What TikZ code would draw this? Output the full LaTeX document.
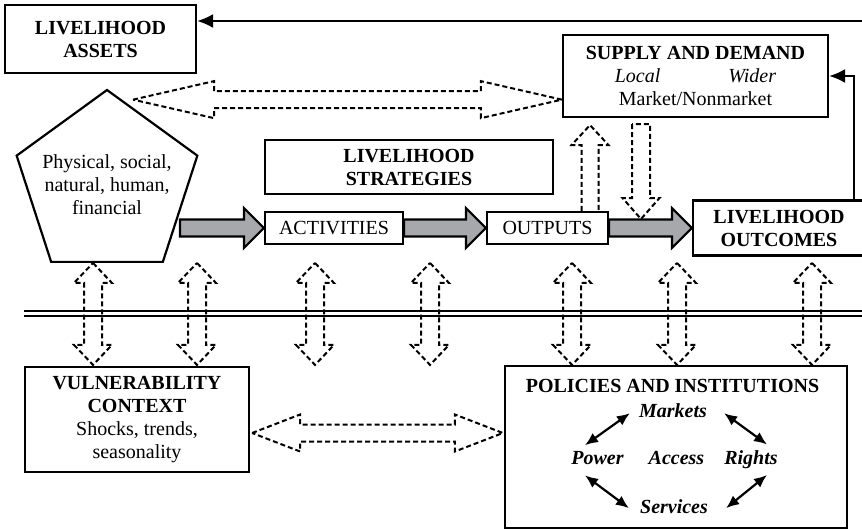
\documentclass[tikz,border=0pt]{standalone}
\usepackage{fontspec}
\setmainfont{Liberation Serif}
\usetikzlibrary{shapes.geometric,arrows.meta,calc}
\definecolor{arrowgrey}{RGB}{166,168,171}

% 竖直双向虚线箭头(上尖端,下尖端)
\newcommand{\dashvarrow}[2]{%
  \draw[dblk] let \p1=(#1), \p2=(#2) in
    (\x1,\y1) -- (\x1+19pt,\y1-20pt) -- (\x1+9pt,\y1-20pt) -- (\x1+9pt,\y2+20pt)
    -- (\x1+19pt,\y2+20pt) -- (\x1,\y2) -- (\x1-19pt,\y2+20pt) -- (\x1-9pt,\y2+20pt)
    -- (\x1-9pt,\y1-20pt) -- (\x1-19pt,\y1-20pt) -- cycle;}
% 水平双向虚线箭头(左尖端,右尖端,箭头长度)
\newcommand{\dashharrow}[3]{%
  \draw[dblk] let \p1=(#1), \p2=(#2) in
    (\x1,\y1) -- (\x1+#3,\y1+18.5pt) -- (\x1+#3,\y1+8.5pt) -- (\x2-#3,\y1+8.5pt)
    -- (\x2-#3,\y1+18.5pt) -- (\x2,\y1) -- (\x2-#3,\y1-18.5pt) -- (\x2-#3,\y1-8.5pt)
    -- (\x1+#3,\y1-8.5pt) -- (\x1+#3,\y1-18.5pt) -- cycle;}
% 灰色实心箭头
\newcommand{\greyarrow}[2]{%
  \draw[garrow] let \p1=(#1), \p2=(#2) in
    (\x1,\y1+8.5pt) -- (\x2-20pt,\y1+8.5pt) -- (\x2-20pt,\y1+20pt) -- (\x2,\y1)
    -- (\x2-20pt,\y1-20pt) -- (\x2-20pt,\y1-8.5pt) -- (\x1,\y1-8.5pt) -- cycle;}

\begin{document}
\begin{tikzpicture}[x=1pt, y=-1pt,
  txt/.style={font=\fontsize{20}{23}\selectfont, align=center, inner sep=1pt},
  hd/.style={font=\fontsize{20}{23}\selectfont\bfseries, align=center, inner sep=1pt},
  bi/.style={font=\fontsize{20}{23}\selectfont\bfseries\itshape, inner sep=1pt},
  box/.style={draw, line width=2.2pt},
  dblk/.style={draw, line width=2pt, dash pattern=on 5pt off 3pt},
  garrow/.style={draw, fill=arrowgrey, line width=2.2pt},
  fb/.style={line width=2pt, -{Latex[length=16pt,width=14pt]}},
  biarr/.style={line width=2.2pt, {Latex[length=13pt,width=11pt]}-{Latex[length=13pt,width=11pt]}}]

  % 画布
  \useasboundingbox (0,0) rectangle (862,530);

  % 上部方框
  \node[box, hd, minimum width=191, minimum height=68] (assets) at (100.5,39) {LIVELIHOOD\\ASSETS};
  \node[box, regular polygon, regular polygon sides=5, minimum size=190, inner sep=0pt]
    (pent) at (107,185) {};
  \node[txt] (penttxt) at (pent.center) {Physical, social,\\natural, human,\\financial};
  \node[box, txt, minimum width=265, minimum height=82] (supply) at (695.5,76)
    {\textbf{SUPPLY AND DEMAND}\\\textit{Local}\hspace{68pt}\textit{Wider}\\Market/Nonmarket};
  \node[box, hd, minimum width=288, minimum height=54] (strat) at (409,167) {LIVELIHOOD\\STRATEGIES};
  \node[box, txt, minimum width=138, minimum height=32] (act) at (334,228) {ACTIVITIES};
  \node[box, txt, minimum width=121, minimum height=32] (outp) at (547.5,228) {OUTPUTS};
  \node[box, hd, minimum width=172, minimum height=55] (outc) at (779,228) {LIVELIHOOD\\OUTCOMES};

  % 下部方框
  \node[box, txt, minimum width=224, minimum height=105] (vuln) at (137,419.5)
    {\textbf{VULNERABILITY}\\\textbf{CONTEXT}\\Shocks, trends,\\seasonality};
  \node[box, minimum width=342, minimum height=162] (pol) at (676,447) {};
  \node[hd, anchor=base] (poltitle) at (672.5,392) {POLICIES AND INSTITUTIONS};
  \node[bi, anchor=base] (mkt) at (673,417) {Markets};
  \node[bi, anchor=base] (pow) at (597.5,464) {Power};
  \node[bi, anchor=base] (acc) at (676.5,464) {Access};
  \node[bi, anchor=base] (rig) at (751,464) {Rights};
  \node[bi, anchor=base] (ser) at (674,513) {Services};

  % 反馈箭头
  \coordinate (fbin) at (866,21);
  \draw[fb] (fbin) -- (fbin -| assets.east);
  \draw[fb] ([xshift=75pt]outc.north) |- (supply.east);

  % 灰色箭头
  \coordinate (gstart) at (180,228);
  \greyarrow{gstart}{act.west}
  \greyarrow{act.east}{outp.west}
  \greyarrow{outp.east}{outc.west}

  % 双线
  \coordinate (ll) at (24,313.8);
  \coordinate (lr) at (866,313.8);
  \draw[line width=2.2pt, double distance=2.7pt] (ll) -- (lr);

  % 虚线箭头
  \dashharrow{[shift={(26,11)}]pent.corner 1}{supply.west}{81pt}
  \dashharrow{[shift={(2,13.5)}]vuln.east}{[xshift=-1pt]pol.west}{48pt}
  \foreach \ax in {93,197,315,430,572,677,812}
    {\dashvarrow{\ax,0 |- pent.south}{\ax,0 |- pol.north}}

  % 产出与供需之间
  \coordinate (dtip) at (641,219);
  \draw[dblk] let \p1=([xshift=42.5pt]outp.north), \p2=([shift={(-105.5,7)}]supply.south) in
    (\x1-8.5pt,\y1) -- (\x1-8.5pt,\y2-20pt) -- (\x1-18.5pt,\y2-20pt) -- (\x1,\y2)
    -- (\x1+18.5pt,\y2-20pt) -- (\x1+8.5pt,\y2-20pt) -- (\x1+8.5pt,\y1);
  \draw[dblk] let \p1=([shift={(-54.5,6)}]supply.south), \p2=(dtip) in
    (\x1-9pt,\y1) -- (\x1-9pt,\y2+21pt) -- (\x1-18.5pt,\y2+21pt) -- (\x2,\y2)
    -- (\x1+18.5pt,\y2+21pt) -- (\x1+9pt,\y2+21pt) -- (\x1+9pt,\y1) -- cycle;

  % 政策与制度内部箭头
  \draw[biarr] ([shift={(-8,3)}]mkt.west) -- ([shift={(-12.5,-4.5)}]pow.north);
  \draw[biarr] ([shift={(16,3)}]mkt.east) -- ([shift={(16,-4.5)}]rig.north);
  \draw[biarr] ([shift={(-12.5,10)}]pow.south) -- ([shift={(-10,2)}]ser.west);
  \draw[biarr] ([shift={(16,5.5)}]rig.south) -- ([shift={(17,2)}]ser.east);

\end{tikzpicture}
\end{document}
